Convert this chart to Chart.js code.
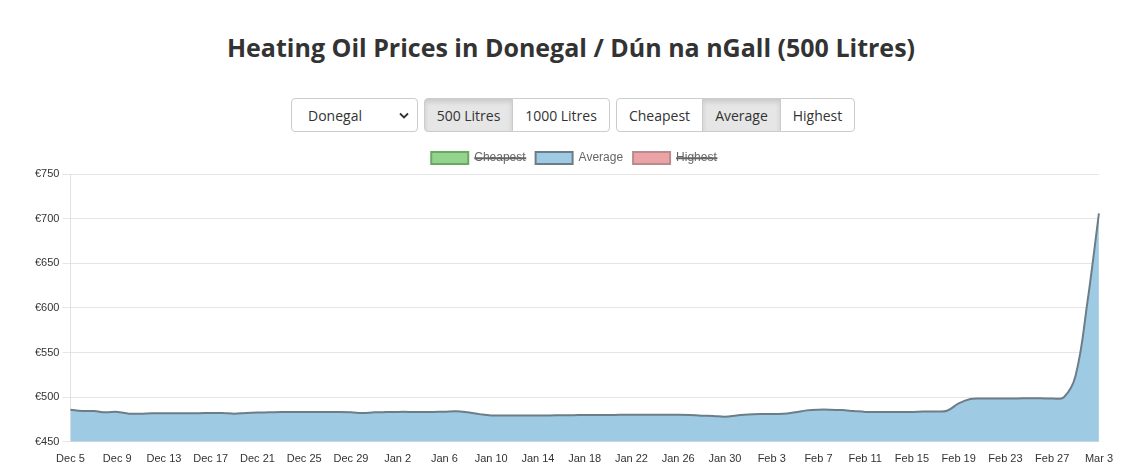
<!DOCTYPE html>
<html>
<head>
<meta charset="utf-8">
<script src="https://cdn.jsdelivr.net/npm/chart.js"></script>
<style>
body{margin:0;background:#fff;font-family:"Open Sans",sans-serif;color:#333;width:1142px;height:471px;overflow:hidden;position:relative}
h1{position:absolute;top:30px;left:0;width:1142px;margin:0;text-align:center;font-size:25px;font-weight:700;color:#333}
.controls{position:absolute;top:98px;left:291px;display:flex;gap:5px}
.sel{width:127px;height:34px;box-sizing:border-box;border:1px solid #ccc;border-radius:4px;font-size:14px;padding:0 0 0 16px;display:flex;align-items:center;justify-content:space-between}
.sel svg{margin-right:8px}
.grp{display:flex;margin-left:1px}
.grp div{height:34px;box-sizing:border-box;border:1px solid #ccc;font-size:14px;display:flex;align-items:center;justify-content:center;margin-left:-1px;background:#fff}
.grp div:first-child{border-radius:4px 0 0 4px;margin-left:0}
.grp div:last-child{border-radius:0 4px 4px 0}
.grp div.on{background:#e6e6e6;box-shadow:inset 0 3px 5px rgba(0,0,0,.125)}
#wrap{position:absolute;left:32px;top:142px;width:1084px;height:327px}
</style>
</head>
<body>

<h1>Heating Oil Prices in Donegal / Dún na nGall (500 Litres)</h1>

<div class="controls">
<div class="sel"><span>Donegal</span><svg width="10" height="7" viewBox="0 0 10 7"><path d="M1 1.5 L5 5.5 L9 1.5" fill="none" stroke="#333" stroke-width="1.8"/></svg></div>
<div class="grp">
<div class="on" style="width:89px">500 Litres</div>
<div style="width:98px">1000 Litres</div>
</div>
<div class="grp">
<div style="width:87px">Cheapest</div>
<div class="on" style="width:79px">Average</div>
<div style="width:75px">Highest</div>
</div>
</div>

<div id="wrap"><canvas id="chart"></canvas></div>

<script>
/* =========================
   DATA
========================= */
const months = ["Dec","Jan","Feb","Mar"];
const firstDay = [5,1,1,1];
const lastDay = [31,31,28,3];

const decAvg = [486,484.5,484.5,483,483.5,481.5,481.5,482,482,482,482,482,482.3,482.3,481.5,482.3,482.8,483,483.3,483.3,483.3,483.3,483.3,483.3,483,482.3,483];
const janAvg = [483.3,483.5,483.5,483.3,483.5,483.8,484.3,483,481,479.5,479.5,479.5,479.5,479.5,479.5,479.8,479.8,480,480,480,480.2,480.3,480.3,480.3,480.3,480.3,480,479.3,479,478.2,479.5];
const febAvg = [480.7,481.2,481.2,481.3,483,485.2,486,486,485.5,484.5,483.5,483.3,483.3,483.3,483.5,484,484,484.8,493,498,498.5,498.5,498.5,498.5,498.8,498.8,498.5,500];
const marAvg = [524,605,706];

const cheapest = [];
const highest = [];

const yTicks = [450,500,550,600,650,700,750];

/* =========================
   BUILD
========================= */
let labels = [];
months.forEach((m,i)=>{
 for(let d=firstDay[i];d<=lastDay[i];d++) labels.push(m+" "+d);
});
const average = [...decAvg,...janAvg,...febAvg,...marAvg];

const font = {family:"'Liberation Sans', Arial, sans-serif",size:11};

new Chart(document.getElementById("chart"),{
 type:"line",
 data:{
  labels:labels,
  datasets:[
   {label:"Cheapest",data:cheapest,hidden:true,backgroundColor:"#93d38c",borderColor:"#6aa865",borderWidth:2,pointRadius:0,fill:"start"},
   {label:"Average",data:average,backgroundColor:"#9ecbe3",borderColor:"#6d7d88",borderWidth:2,pointRadius:0,tension:0.4,fill:"start"},
   {label:"Highest",data:highest,hidden:true,backgroundColor:"#eba3a6",borderColor:"#b88c8e",borderWidth:2,pointRadius:0,fill:"start"}
  ]
 },
 options:{
  responsive:true,
  maintainAspectRatio:false,
  animation:false,
  plugins:{
   legend:{
    labels:{boxWidth:37,boxHeight:12,color:"#666",font:{family:font.family,size:12},padding:10}
   },
   tooltip:{enabled:false}
  },
  scales:{
   x:{
    grid:{display:false},
    border:{color:"#e0e0e0"},
    ticks:{
     autoSkip:false,maxRotation:0,color:"#333",font:font,
     callback:(v,i)=>i%4===0?labels[i]:null
    }
   },
   y:{
    min:yTicks[0],max:yTicks[yTicks.length-1],
    grid:{color:"#e6e6e6"},
    border:{color:"#e0e0e0"},
    afterBuildTicks:ax=>{ax.ticks=yTicks.map(v=>({value:v}));},
    ticks:{color:"#333",font:font,callback:v=>"€"+v}
   }
  }
 }
});
</script>

</body>
</html>
